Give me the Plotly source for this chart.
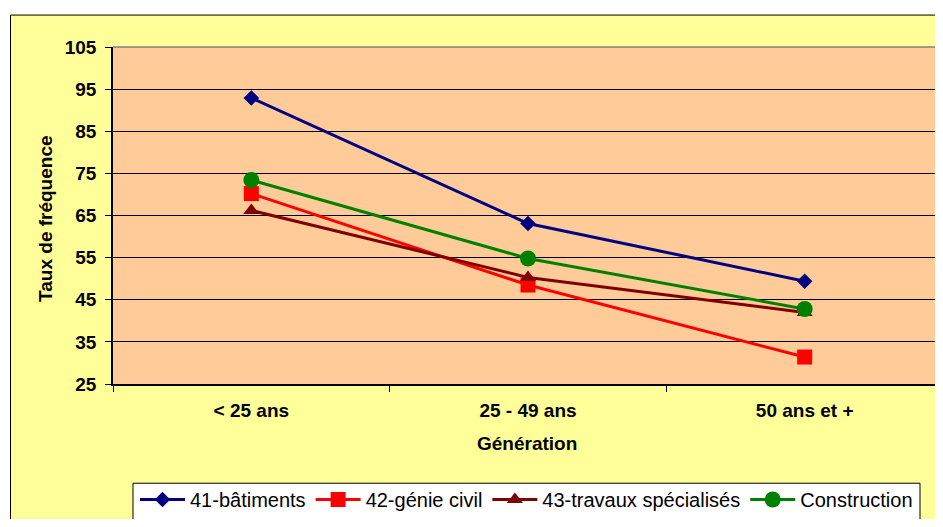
import plotly.graph_objects as go

categories = ["< 25 ans", "25 - 49 ans", "50 ans et +"]
batiments = [92.9, 63.1, 49.4]
genie_civil = [70.2, 48.5, 31.4]
travaux_spec = [66.2, 50.3, 42.0]
construction = [73.4, 54.8, 42.8]
series_names = ["41-bâtiments", "42-génie civil", "43-travaux spécialisés", "Construction"]
y_ticks = [25, 35, 45, 55, 65, 75, 85, 95, 105]

# page has an 8px body margin; figure is placed at (8, 8)
OFF = 8
W, H = 943 - OFF, 527 - 2 * OFF
L, R, T = 113 - OFF, 0, 47 - OFF
ph = 343
B = H - T - ph
pw = W - L - R

def px_x(x):  # page pixel -> paper x
    return (x - OFF - L) / pw

def px_y(y):  # page pixel -> paper y
    return (T + ph - (y - OFF)) / ph

FONT = "Liberation Sans, Arial, sans-serif"

styles = [
    ("#000080", "diamond", 12),
    ("#FF0000", "square", 15),
    ("#800000", "triangle-up", 14),
    ("#008000", "circle", 16),
]

fig = go.Figure()
for name, vals, (col, sym, sz) in zip(series_names, [batiments, genie_civil, travaux_spec, construction], styles):
    fig.add_trace(go.Scatter(
        x=categories, y=vals, name=name, mode="lines+markers",
        line=dict(color=col, width=3),
        marker=dict(color=col, symbol=sym, size=sz, line=dict(width=0)),
    ))

shapes = [
    # white strips outside chart area
    dict(type="rect", xref="paper", yref="paper", x0=px_x(0), x1=px_x(10), y0=px_y(560), y1=px_y(0),
         fillcolor="white", line=dict(width=0), layer="below"),
    dict(type="rect", xref="paper", yref="paper", x0=px_x(0), x1=px_x(980), y0=px_y(14), y1=px_y(0),
         fillcolor="white", line=dict(width=0), layer="below"),
    # chart area border
    dict(type="rect", xref="paper", yref="paper", x0=px_x(10.5), x1=px_x(980), y0=px_y(560), y1=px_y(14.5),
         fillcolor="rgba(0,0,0,0)", line=dict(color="black", width=1), layer="below"),
    # legend box
    dict(type="rect", xref="paper", yref="paper", x0=px_x(133), x1=px_x(920), y0=px_y(560), y1=px_y(491),
         fillcolor="white", line=dict(color="black", width=1), layer="below"),
    # plot area top/right grey border
    dict(type="line", xref="paper", yref="paper", x0=0, x1=1, y0=1, y1=1,
         line=dict(color="#808080", width=1.5), layer="above"),
    dict(type="line", xref="paper", yref="paper", x0=1, x1=1, y0=0, y1=1,
         line=dict(color="#808080", width=2), layer="above"),
]

annotations = [
    dict(text="Génération", xref="paper", yref="paper", x=px_x(527), y=px_y(451),
         showarrow=False, xanchor="center", yanchor="middle",
         font=dict(family=FONT, size=19, color="black", weight="bold")),
    dict(text="Taux de fréquence", xref="paper", yref="paper", x=px_x(46), y=px_y(222),
         showarrow=False, xanchor="center", yanchor="middle", textangle=-90,
         font=dict(family=FONT, size=19, color="black", weight="bold")),
]

fig.update_layout(
    width=W, height=H,
    margin=dict(l=L, r=R, t=T, b=B, pad=0),
    paper_bgcolor="#FFFF99",
    plot_bgcolor="#FFCC99",
    shapes=shapes,
    annotations=annotations,
    showlegend=True,
    legend=dict(
        orientation="h", x=px_x(135), xanchor="left", y=px_y(508), yanchor="middle",
        bgcolor="rgba(0,0,0,0)", borderwidth=0,
        font=dict(family=FONT, size=20, color="black"),
        itemwidth=45,
    ),
    xaxis=dict(
        type="category", range=[-0.5, 2.5], tickson="boundaries",
        ticks="outside", ticklen=6, tickcolor="black",
        showline=True, linecolor="black", linewidth=1.5,
        showgrid=False, ticklabelstandoff=8,
        tickfont=dict(family=FONT, size=19, color="black", weight="bold"),
        fixedrange=True,
    ),
    yaxis=dict(
        range=[25, 105], tickvals=y_ticks, ticktext=[str(v) for v in y_ticks],
        ticks="outside", ticklen=6, tickcolor="black",
        showline=True, linecolor="black", linewidth=1.5,
        showgrid=True, gridcolor="black", gridwidth=1, zeroline=False,
        ticklabelstandoff=5,
        tickfont=dict(family=FONT, size=19, color="black", weight="bold"),
        fixedrange=True,
    ),
)

fig.write_html("out.html")
